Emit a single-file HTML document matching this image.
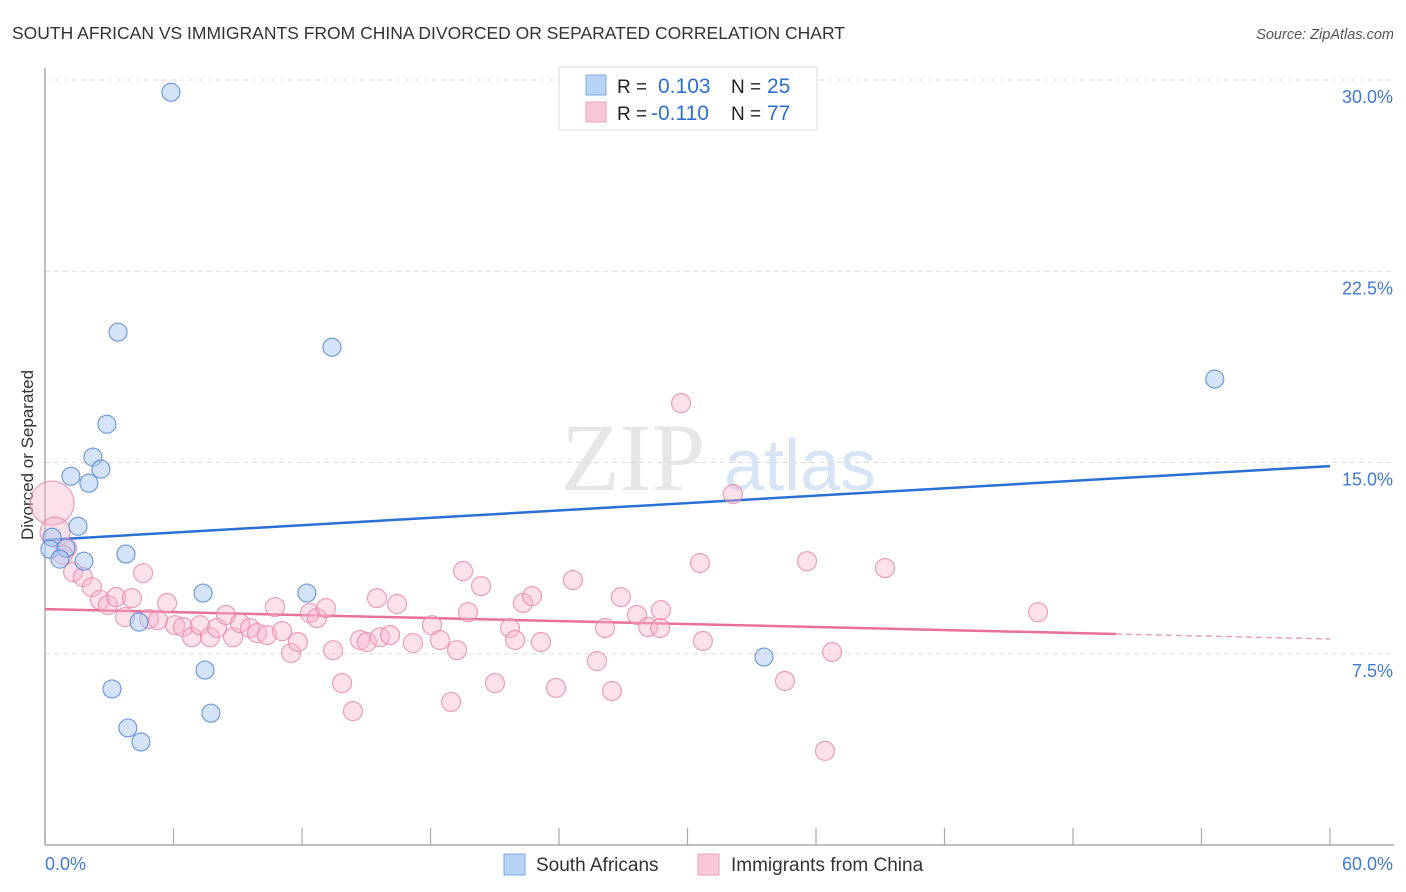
<!DOCTYPE html>
<html><head><meta charset="utf-8"><style>
body{margin:0;background:#fff;font-family:"Liberation Sans",sans-serif;}
svg{display:block}
</style></head><body>
<svg id="chart" width="1406" height="892" xmlns="http://www.w3.org/2000/svg">
<text x="12" y="39" font-size="17.5" fill="#333">SOUTH AFRICAN VS IMMIGRANTS FROM CHINA DIVORCED OR SEPARATED CORRELATION CHART</text>
<text x="1394" y="39" font-size="14.5" fill="#555" font-style="italic" text-anchor="end">Source: ZipAtlas.com</text>
<text x="33" y="455" font-size="17" fill="#333" text-anchor="middle" transform="rotate(-90 33 455)">Divorced or Separated</text>
<g><text x="633" y="490" font-size="96" font-family="Liberation Serif,serif" fill="#e6e6e6" text-anchor="middle">ZIP</text><text x="800" y="490" font-size="72" fill="#d6e4f5" text-anchor="middle">atlas</text></g>
<g id="grid"></g><g id="axes"></g><g id="lines"></g><g id="pts"></g>
<g>
<rect x="559" y="67" width="258" height="63" fill="#fff" stroke="#ddd"/>
<rect x="586" y="75" width="20" height="20" fill="#b8d3f5" stroke="#7fa9e0"/>
<rect x="586" y="102" width="20" height="20" fill="#f9c8d6" stroke="#eba0b8"/>
<text x="617" y="93" font-size="19" fill="#222">R = </text><text x="658" y="93" font-size="21" fill="#2f6fd0">0.103</text>
<text x="731" y="93" font-size="19" fill="#222">N = </text><text x="767" y="93" font-size="21" fill="#2f6fd0">25</text>
<text x="617" y="120" font-size="19" fill="#222">R = </text><text x="651" y="120" font-size="21" fill="#2f6fd0">-0.110</text>
<text x="731" y="120" font-size="19" fill="#222">N = </text><text x="767" y="120" font-size="21" fill="#2f6fd0">77</text>
</g>
<g>
<rect x="504" y="854" width="21" height="21" fill="#b8d3f5" stroke="#7fa9e0"/>
<text x="536" y="871" font-size="19" fill="#333">South Africans</text>
<rect x="698" y="854" width="21" height="21" fill="#f9c8d6" stroke="#eba0b8"/>
<text x="731" y="871" font-size="19" fill="#333">Immigrants from China</text>
</g>
</svg>
<script>
const yTicks=[7.5,15,22.5,30];
const xTickLabels=["0.0%","60.0%"];
const blueX=[5.88,3.41,13.40,2.89,2.24,1.21,2.61,2.05,1.54,0.33,0.23,0.98,0.70,1.82,3.78,7.38,12.23,4.39,7.47,3.13,7.75,3.87,4.48,33.57,54.62];
const blueY=[29.52,20.11,19.52,16.50,15.21,14.46,14.74,14.19,12.50,12.07,11.60,11.64,11.21,11.13,11.41,9.88,9.88,8.74,6.86,6.12,5.17,4.59,4.04,7.37,18.27];
const pinkX=[0.33,0.47,1.03,0.84,1.31,1.77,2.19,2.57,2.94,3.32,4.06,4.58,3.74,4.86,5.28,5.70,6.07,6.44,6.86,7.24,7.70,8.03,8.45,8.78,9.10,9.57,9.90,10.37,10.74,11.07,11.49,11.81,12.37,12.70,13.12,13.45,13.87,14.38,14.71,15.03,15.50,15.64,16.11,16.44,17.18,18.07,18.44,18.96,19.24,19.52,19.75,20.36,21.01,21.71,21.95,22.32,22.74,23.16,23.86,24.65,25.77,26.15,26.47,26.89,27.64,28.16,28.72,28.76,29.70,30.58,30.72,32.12,34.55,35.58,36.42,36.75,39.22,46.37];
const pinkY=[13.41,12.27,11.64,11.37,10.70,10.51,10.11,9.61,9.41,9.72,9.68,10.66,8.94,8.86,8.82,9.49,8.62,8.55,8.15,8.62,8.15,8.51,9.02,8.15,8.70,8.51,8.31,8.23,9.33,8.39,7.53,7.96,9.10,8.90,9.29,7.64,6.35,5.25,8.04,7.96,9.68,8.15,8.23,9.45,7.92,8.62,8.04,5.61,7.64,10.74,9.13,10.15,6.35,8.51,8.04,9.49,9.76,7.96,6.16,10.39,7.21,8.51,6.04,9.72,9.02,8.55,8.51,9.21,17.33,11.06,8.00,13.76,6.43,11.13,3.69,7.57,10.86,9.13];
const pinkR=[22,15];
const blueTrend=[11.96,14.86];
const pinkTrend=[9.25,8.08];
const pinkSolidEnd=50;
const X0=45,X1=1330,Y0=845,YT=80;
const sx=v=>X0+(v/60)*(X1-X0);
const sy=v=>Y0-(v/30)*(Y0-YT);
const NS="http://www.w3.org/2000/svg";
function mk(tag,attrs,parent){const e=document.createElementNS(NS,tag);for(const k in attrs)e.setAttribute(k,attrs[k]);document.getElementById(parent).appendChild(e);return e;}
yTicks.forEach(t=>{
 const g=mk('line',{x1:X0,x2:1394,y1:sy(t),y2:sy(t),stroke:'#ddd','stroke-dasharray':'5,4'},'grid');
 
 
 const l=mk('text',{x:1393,y:sy(t)+23,'font-size':18,fill:'#3f7ad6','text-anchor':'end'},'axes');
 l.textContent=t.toFixed(1)+'%';
 
 
});
const ax=mk('line',{x1:X0,x2:X0,y1:68,y2:Y0,stroke:'#aaa','stroke-width':1.5},'axes');


const bx=mk('line',{x1:X0,x2:1394,y1:Y0,y2:Y0,stroke:'#aaa','stroke-width':1.5},'axes');


for(let i=0;i<=10;i++){
 const t=mk('line',{x1:sx(i*6),x2:sx(i*6),y1:828,y2:Y0,stroke:'#aaa','stroke-width':1.2},'axes');
 
 
}
const xl0=mk('text',{x:45,y:870,'font-size':18,fill:'#3f7ad6'},'axes');
xl0.textContent=xTickLabels[0];


const xl1=mk('text',{x:1393,y:870,'font-size':18,fill:'#3f7ad6','text-anchor':'end'},'axes');
xl1.textContent=xTickLabels[1];


pinkX.forEach((x,i)=>{
 const c=mk('circle',{cx:sx(x),cy:sy(pinkY[i]),r:pinkR[i]||9.5,fill:'rgba(248,182,204,0.42)',stroke:'rgba(232,130,165,0.75)','stroke-width':1.2},'pts');
 
 
});
blueX.forEach((x,i)=>{
 const c=mk('circle',{cx:sx(x),cy:sy(blueY[i]),r:9,fill:'rgba(170,200,242,0.5)',stroke:'rgba(80,135,215,0.8)','stroke-width':1.2},'pts');
 
 
});
const pAt=x=>pinkTrend[0]+(pinkTrend[1]-pinkTrend[0])*x/60;
const bl=mk('line',{x1:sx(0),y1:sy(blueTrend[0]),x2:sx(60),y2:sy(blueTrend[1]),stroke:'#2a6fd6','stroke-width':2.5},'lines');


const pl=mk('line',{x1:sx(0),y1:sy(pAt(0)),x2:sx(pinkSolidEnd),y2:sy(pAt(pinkSolidEnd)),stroke:'#e8709a','stroke-width':2.5},'lines');


const pd=mk('line',{x1:sx(pinkSolidEnd),y1:sy(pAt(pinkSolidEnd)),x2:sx(60),y2:sy(pAt(60)),stroke:'#e8a0b8','stroke-width':1.5,'stroke-dasharray':'6,4'},'lines');


</script>
</body></html>
